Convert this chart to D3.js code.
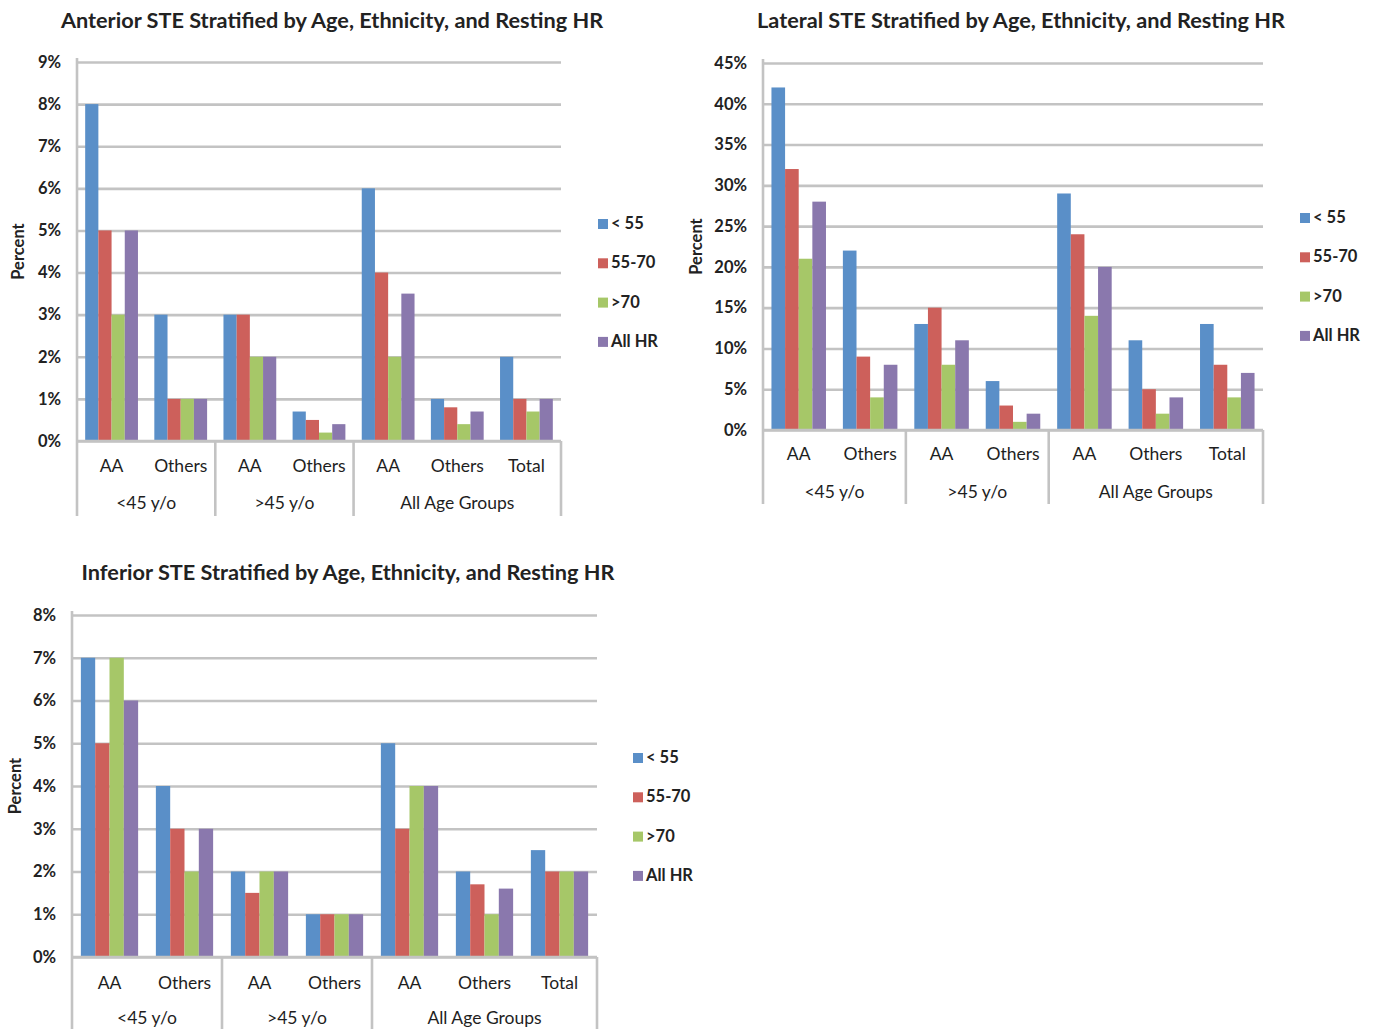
<!DOCTYPE html>
<html>
<head>
<meta charset="utf-8">
<script src="https://cdn.jsdelivr.net/npm/d3@7"></script>
<style>
  html, body { margin: 0; padding: 0; background: #fff; }
  svg { display: block; font-family: Lato, "Open Sans", sans-serif; }
</style>
</head>
<body>
<svg id="fig" width="1377" height="1029"></svg>
<script>
// Heart-rate strata (legend order) and their colours
const series = ["< 55", "55-70", ">70", "All HR"];
const seriesColors = ["#5a8fc8", "#cd605b", "#a6c768", "#8a78ad"];

// Two-level category axis: ethnicity within age group
const categories = ["AA", "Others", "AA", "Others", "AA", "Others", "Total"];
const ageGroups = ["<45 y/o", ">45 y/o", "All Age Groups"];
const ageGroupSpans = [2, 2, 3];

// Percent values, one row per category, columns follow `series`
const anteriorValues = [
  [8, 5, 3, 5],
  [3, 1, 1, 1],
  [3, 3, 2, 2],
  [0.7, 0.5, 0.2, 0.4],
  [6, 4, 2, 3.5],
  [1, 0.8, 0.4, 0.7],
  [2, 1, 0.7, 1]
];
const lateralValues = [
  [42, 32, 21, 28],
  [22, 9, 4, 8],
  [13, 15, 8, 11],
  [6, 3, 1, 2],
  [29, 24, 14, 20],
  [11, 5, 2, 4],
  [13, 8, 4, 7]
];
const inferiorValues = [
  [7, 5, 7, 6],
  [4, 3, 2, 3],
  [2, 1.5, 2, 2],
  [1, 1, 1, 1],
  [5, 3, 4, 4],
  [2, 1.7, 1, 1.6],
  [2.5, 2, 2, 2]
];

// Y-axis ticks for each panel
const anteriorTicks = [0, 1, 2, 3, 4, 5, 6, 7, 8, 9];
const lateralTicks = [0, 5, 10, 15, 20, 25, 30, 35, 40, 45];
const inferiorTicks = [0, 1, 2, 3, 4, 5, 6, 7, 8];

const svg = d3.select("#fig");
const gridColor = "#c3c3c3";

function drawPanel(cfg) {
  const { title, values, ticks, left, right, top, bottom, titleX, titleY,
          ylabelX, legendX, legendY, legendStep, catLabelDy, groupLabelDy, sepLen } = cfg;
  const g = svg.append("g");

  const y = d3.scaleLinear().domain([0, d3.max(ticks)]).range([bottom, top]);
  const x = d3.scaleBand().domain(d3.range(categories.length)).range([left, right]).padding(0);
  const xs = d3.scaleBand().domain(d3.range(series.length))
    .range([0, x.bandwidth()]).paddingInner(0).paddingOuter(0.62);

  // Gridlines
  const grid = g.append("g").attr("transform", `translate(${left},0)`)
    .call(d3.axisLeft(y).tickValues(ticks).tickSize(-(right - left)).tickFormat(""));
  grid.select(".domain").remove();
  grid.selectAll(".tick line").attr("stroke", gridColor).attr("stroke-width", 2.6);

  // Tick labels
  const yAxis = g.append("g").attr("transform", `translate(${left},0)`)
    .call(d3.axisLeft(y).tickValues(ticks).tickSize(0).tickPadding(16).tickFormat(d => d + "%"));
  yAxis.select(".domain").remove();
  yAxis.selectAll("text")
    .attr("font-family", "Lato, sans-serif").attr("font-size", 16.5)
    .attr("font-weight", 700).attr("fill", "#222");

  // Bars
  const cat = g.append("g").selectAll("g").data(values).join("g")
    .attr("transform", (d, i) => `translate(${x(i)},0)`);
  cat.selectAll("rect").data(d => d).join("rect")
    .attr("x", (d, j) => xs(j))
    .attr("width", xs.bandwidth())
    .attr("y", d => y(d))
    .attr("height", d => y(0) - y(d))
    .attr("fill", (d, j) => seriesColors[j]);

  // Left value axis and baseline
  g.append("line").attr("x1", left).attr("x2", left).attr("y1", top - 4).attr("y2", bottom)
    .attr("stroke", gridColor).attr("stroke-width", 2.6);
  g.append("line").attr("x1", left).attr("x2", right).attr("y1", bottom).attr("y2", bottom)
    .attr("stroke", gridColor).attr("stroke-width", 2.6);

  // Category axis: ethnicity labels
  g.append("g").selectAll("text").data(categories).join("text")
    .attr("x", (d, i) => x(i) + x.bandwidth() / 2)
    .attr("y", bottom + catLabelDy)
    .attr("text-anchor", "middle")
    .attr("font-size", 17.5).attr("font-weight", 400).attr("fill", "#1e1e1e")
    .text(d => d);

  // Category axis: age-group labels and separators
  let start = 0;
  const bounds = [0];
  ageGroups.forEach((grp, k) => {
    const end = start + ageGroupSpans[k];
    const x0 = x(start), x1 = x(end - 1) + x.bandwidth();
    g.append("text")
      .attr("x", (x0 + x1) / 2).attr("y", bottom + groupLabelDy)
      .attr("text-anchor", "middle")
      .attr("font-size", 17.5).attr("font-weight", 400).attr("fill", "#1e1e1e")
      .text(grp);
    bounds.push(end);
    start = end;
  });
  g.append("g").selectAll("line").data(bounds).join("line")
    .attr("x1", d => d === categories.length ? right : x(d))
    .attr("x2", d => d === categories.length ? right : x(d))
    .attr("y1", bottom).attr("y2", bottom + sepLen)
    .attr("stroke", gridColor).attr("stroke-width", 2.6);

  // Title
  g.append("text").attr("x", titleX).attr("y", titleY)
    .attr("text-anchor", "middle")
    .attr("font-size", 21.7).attr("font-weight", 700).attr("fill", "#222")
    .text(title);

  // Y-axis title
  g.append("text")
    .attr("transform", `translate(${ylabelX},${(top + bottom) / 2}) rotate(-90)`)
    .attr("text-anchor", "middle")
    .attr("font-size", 16.5).attr("font-weight", 700).attr("fill", "#222")
    .text("Percent");

  // Legend
  const leg = g.append("g").selectAll("g").data(series).join("g")
    .attr("transform", (d, i) => `translate(${legendX},${legendY + i * legendStep})`);
  leg.append("rect").attr("x", 0).attr("y", -10).attr("width", 10).attr("height", 10)
    .attr("fill", (d, i) => seriesColors[i]);
  leg.append("text").attr("x", 13).attr("y", 0)
    .attr("font-size", 16.5).attr("font-weight", 700).attr("fill", "#222")
    .text(d => d);
}

drawPanel({
  title: "Anterior STE Stratified by Age, Ethnicity, and Resting HR",
  values: anteriorValues, ticks: anteriorTicks,
  left: 77, right: 561, top: 62, bottom: 441,
  titleX: 332, titleY: 28, ylabelX: 24,
  legendX: 598, legendY: 229, legendStep: 39.3,
  catLabelDy: 31, groupLabelDy: 68, sepLen: 75
});

drawPanel({
  title: "Lateral STE Stratified by Age, Ethnicity, and Resting HR",
  values: lateralValues, ticks: lateralTicks,
  left: 763, right: 1263, top: 63, bottom: 430,
  titleX: 1021, titleY: 28, ylabelX: 702,
  legendX: 1300, legendY: 223, legendStep: 39.3,
  catLabelDy: 30, groupLabelDy: 68, sepLen: 74
});

drawPanel({
  title: "Inferior STE Stratified by Age, Ethnicity, and Resting HR",
  values: inferiorValues, ticks: inferiorTicks,
  left: 72, right: 597, top: 615, bottom: 957,
  titleX: 348, titleY: 580, ylabelX: 21,
  legendX: 633, legendY: 763, legendStep: 39.3,
  catLabelDy: 32, groupLabelDy: 67, sepLen: 80
});
</script>
</body>
</html>
